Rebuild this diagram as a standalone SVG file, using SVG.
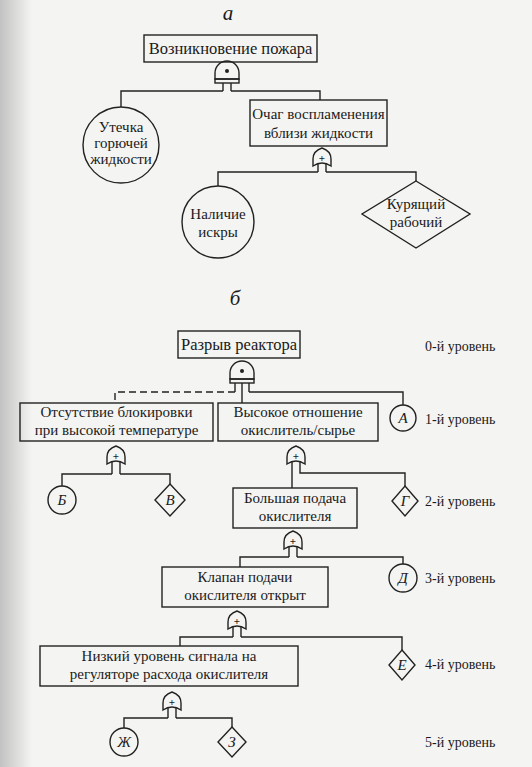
<svg xmlns="http://www.w3.org/2000/svg" width="532" height="767" viewBox="0 0 532 767" font-family="'Liberation Serif', 'Times New Roman', serif">
<defs>
<linearGradient id="edge" x1="0" y1="0" x2="1" y2="0">
<stop offset="0" stop-color="#c2c2c2"/>
<stop offset="1" stop-color="#f4f4f2"/>
</linearGradient>
<path id="orgate" d="M-9,18 L-9,11 Q-9,3 0,0 Q9,3 9,11 L9,18 Q0,12 -9,18 Z" fill="none" stroke="#222" stroke-width="1.4"/>
<g id="andgate" fill="none" stroke="#222" stroke-width="1.4">
<path d="M-12,18 L-12,12 A12,12 0 0 1 12,12 L12,18 Z"/>
<rect x="-12" y="18" width="24" height="4"/>
<circle cx="0" cy="10" r="2" fill="#222" stroke="none"/>
</g>
</defs>
<style>
.bg{fill:#f4f4f2}
.n rect,.n circle,.n polygon,.n path{fill:none;stroke:#222;stroke-width:1.4}
.c line,.c path{fill:none;stroke:#222;stroke-width:1.4}
.dash{stroke-dasharray:7,4}
text{font-family:'Liberation Serif','Times New Roman',serif;fill:#1a1a1a;text-anchor:middle}
.t{font-size:15px}
.tb{font-size:16.5px}
.it{font-style:italic}
.lv{font-size:14px;text-anchor:start}
.pl{font-size:11px;font-weight:bold}
</style>
<rect class="bg" x="0" y="0" width="532" height="767"/>
<rect x="0" y="0" width="32" height="767" fill="url(#edge)"/>

<text class="it" x="228" y="20" style="font-size:21px">а</text>
<text class="it" x="235" y="305" style="font-size:21px">б</text>

<g class="c" id="connectors">
<line x1="223" y1="83" x2="223" y2="91"/><line x1="231" y1="83" x2="231" y2="91"/>
<path d="M223,91 H121 V107"/>
<path d="M231,91 H320 V100"/>
<line x1="318" y1="163" x2="318" y2="172"/><line x1="326" y1="163" x2="326" y2="172"/>
<path d="M318,172 H218 V186"/>
<path d="M326,172 H416 V181"/>
<line x1="235" y1="383" x2="235" y2="392"/>
<line x1="242" y1="383" x2="242" y2="403"/>
<line x1="249" y1="383" x2="249" y2="392"/>
<path class="dash" d="M235,392 H115 V403"/>
<path d="M249,392 H403 V405"/>
<line x1="112" y1="462" x2="112" y2="474"/><line x1="120" y1="462" x2="120" y2="474"/>
<path d="M112,474 H62 V486"/>
<path d="M120,474 H170 V484"/>
<line x1="292" y1="462" x2="292" y2="488"/>
<path d="M300,462 V473 H405 V486"/>
<line x1="289" y1="547" x2="289" y2="557"/><line x1="297" y1="547" x2="297" y2="557"/>
<path d="M289,557 H240 V567"/>
<path d="M297,557 H403 V564"/>
<line x1="233" y1="627" x2="233" y2="637"/><line x1="241" y1="627" x2="241" y2="637"/>
<path d="M233,637 H180 V646"/>
<path d="M241,637 H402 V650"/>
<line x1="168" y1="708" x2="168" y2="718"/><line x1="176" y1="708" x2="176" y2="718"/>
<path d="M168,718 H124 V728"/>
<path d="M176,718 H232 V727"/>
</g>

<g id="gates">
<use href="#andgate" transform="translate(227,61)"/>
<use href="#orgate" transform="translate(322,148)"/>
<text class="pl" x="322" y="162">+</text>
<use href="#andgate" transform="translate(242,361)"/>
<use href="#orgate" transform="translate(116,446)"/>
<text class="pl" x="116" y="460">+</text>
<use href="#orgate" transform="translate(296,446)"/>
<text class="pl" x="296" y="460">+</text>
<use href="#orgate" transform="translate(293,531)"/>
<text class="pl" x="293" y="545">+</text>
<use href="#orgate" transform="translate(237,611)"/>
<text class="pl" x="237" y="625">+</text>
<use href="#orgate" transform="translate(172,692)"/>
<text class="pl" x="172" y="706">+</text>
</g>

<g class="n" id="fire">
<rect x="144" y="35" width="173" height="27"/>
<text class="tb" x="230.5" y="54">Возникновение пожара</text>
</g>
<g class="n" id="leak">
<circle cx="121" cy="145" r="38"/>
<text class="t" x="121" y="132">Утечка</text>
<text class="t" x="121" y="148">горючей</text>
<text class="t" x="121" y="164">жидкости</text>
</g>
<g class="n" id="ignition">
<rect x="250" y="100" width="137" height="46"/>
<text class="t" x="318.5" y="119">Очаг воспламенения</text>
<text class="t" x="318.5" y="138">вблизи жидкости</text>
</g>
<g class="n" id="spark">
<circle cx="218" cy="222" r="36"/>
<text class="t" x="218" y="219">Наличие</text>
<text class="t" x="218" y="237">искры</text>
</g>
<g class="n" id="smoker">
<polygon points="416,181 470,214 416,248 362,214"/>
<text class="t" x="416" y="209">Курящий</text>
<text class="t" x="416" y="227">рабочий</text>
</g>

<g class="n" id="rupture">
<rect x="178" y="331" width="122" height="27"/>
<text class="tb" x="239" y="350">Разрыв реактора</text>
</g>
<g class="n" id="noblock">
<rect x="20" y="403" width="193" height="38"/>
<text class="t" x="116.5" y="417">Отсутствие блокировки</text>
<text class="t" x="116.5" y="435">при высокой температуре</text>
</g>
<g class="n" id="ratio">
<rect x="218" y="403" width="160" height="38"/>
<text class="t" x="298" y="417">Высокое отношение</text>
<text class="t" x="298" y="435">окислитель/сырье</text>
</g>
<g class="n" id="evA">
<circle cx="403" cy="418" r="13"/>
<text class="t it" x="403" y="423">А</text>
</g>
<g class="n" id="evB">
<circle cx="62" cy="500" r="14"/>
<text class="t it" x="62" y="505">Б</text>
</g>
<g class="n" id="evV">
<polygon points="170,484 185,500 170,516 155,500"/>
<text class="t it" x="170" y="505">В</text>
</g>
<g class="n" id="feed">
<rect x="233" y="488" width="124" height="40"/>
<text class="t" x="295" y="503">Большая подача</text>
<text class="t" x="295" y="521">окислителя</text>
</g>
<g class="n" id="evG">
<polygon points="405,486 418,501 405,516 392,501"/>
<text class="t it" x="405" y="506">Г</text>
</g>
<g class="n" id="valve">
<rect x="162" y="567" width="166" height="40"/>
<text class="t" x="245" y="582">Клапан подачи</text>
<text class="t" x="245" y="600">окислителя открыт</text>
</g>
<g class="n" id="evD">
<circle cx="403" cy="578" r="14"/>
<text class="t it" x="403" y="583">Д</text>
</g>
<g class="n" id="signal">
<rect x="40" y="646" width="258" height="40"/>
<text class="t" x="169" y="661">Низкий уровень сигнала на</text>
<text class="t" x="169" y="679">регуляторе расхода окислителя</text>
</g>
<g class="n" id="evE">
<polygon points="402,650 415,665 402,680 389,665"/>
<text class="t it" x="402" y="670">Е</text>
</g>
<g class="n" id="evZh">
<circle cx="124" cy="742" r="14"/>
<text class="t it" x="124" y="747">Ж</text>
</g>
<g class="n" id="evZ">
<polygon points="232,727 246,742 232,757 218,742"/>
<text class="t it" x="232" y="747">З</text>
</g>

<g id="levels">
<text class="lv" x="425" y="351">0-й уровень</text>
<text class="lv" x="425" y="424">1-й уровень</text>
<text class="lv" x="425" y="506">2-й уровень</text>
<text class="lv" x="425" y="583">3-й уровень</text>
<text class="lv" x="425" y="669">4-й уровень</text>
<text class="lv" x="425" y="747">5-й уровень</text>
</g>
</svg>
